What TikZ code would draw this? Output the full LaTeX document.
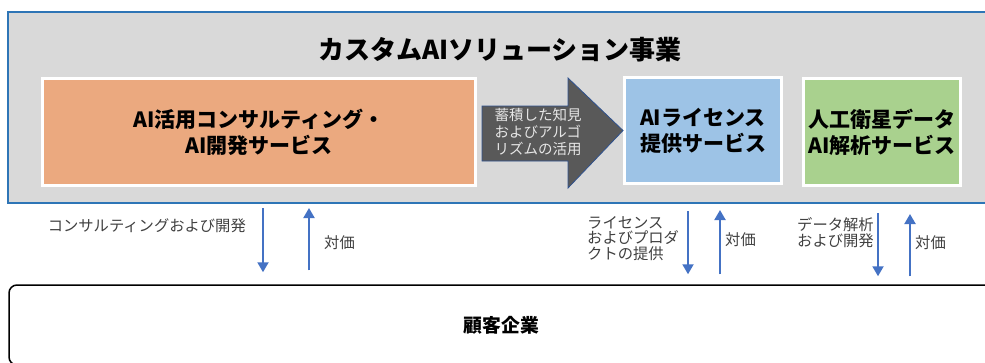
\documentclass[tikz,border=0pt]{standalone}
\usepackage{fontspec}
\setmainfont{Noto Sans CJK JP}
\usetikzlibrary{positioning,arrows.meta}

\definecolor{frameblue}{HTML}{2E75B6}
\definecolor{panelgray}{HTML}{D9D9D9}
\definecolor{consultorange}{HTML}{EBA97F}
\definecolor{licenseblue}{HTML}{9DC3E6}
\definecolor{satgreen}{HTML}{A9D18E}
\definecolor{arrowgray}{HTML}{595959}
\definecolor{arrowedge}{HTML}{2F528F}
\definecolor{arrowtext}{HTML}{E6E6E6}
\definecolor{flowblue}{HTML}{4472C4}
\definecolor{notegray}{HTML}{404040}

\begin{document}
\begin{tikzpicture}[
  x = 1pt,
  y = -1pt,
  panel/.style = {
    draw = white,
    line width = 3pt,
    inner sep = 0pt,
    align = center,
    font = \bfseries\fontsize{21}{26}\selectfont,
  },
  note/.style = {
    text = notegray,
    inner sep = 0pt,
    font = \fontsize{15.3}{15.8}\selectfont,
  },
  flow/.style = {
    ->,
    line width = 2pt,
    draw = flowblue,
  },
  >={Triangle[width=11pt,length=10pt]},
]

  \clip (0,0) rectangle (985,362);

  \node[draw=frameblue, line width=2pt, fill=panelgray, inner sep=0pt,
        minimum width=985pt, minimum height=191pt] (business) at (500.5,107.5) {};
  \node[font=\bfseries\fontsize{26}{30}\selectfont] (title) at (500,50) {カスタムAIソリューション事業};

  \node[panel, fill=consultorange, minimum width=433pt, minimum height=107pt]
    (consult) at (259,132) {AI活用コンサルティング・\\AI開発サービス};
  \node[panel, fill=licenseblue, minimum width=157pt, minimum height=106pt]
    (license) at (703,130.5) {AIライセンス\\提供サービス};
  \node[panel, fill=satgreen, minimum width=157pt, minimum height=107pt]
    (satellite) at (882,132) {人工衛星データ\\AI解析サービス};

  % know-how reuse arrow
  \draw[draw=arrowedge, fill=arrowgray, line width=0.8pt]
    (482,106) -- (568,106) -- (568,78) -- (license.west) -- (568,188)
    -- (568,161) -- (482,161) -- cycle;
  \node[text=arrowtext, align=left, inner sep=0pt, font=\fontsize{14.5}{17}\selectfont]
    (reuse) at (538,132) {蓄積した知見\\およびアルゴ\\リズムの活用};

  \node[draw=black, line width=1.5pt, rounded corners=8pt, fill=white,
        minimum width=985pt, minimum height=80pt,
        font=\bfseries\fontsize{18.8}{22}\selectfont] (client) at (501.5,325) {顧客企業};

  \coordinate (d1) at (263,0);
  \coordinate (u1) at (309,0);
  \coordinate (d2) at (688,0);
  \coordinate (u2) at (720,0);
  \coordinate (d3) at (878,0);
  \coordinate (u3) at (910,0);

  \draw[flow, shorten <=4pt, shorten >=12pt] (business.south -| d1) -- (client.north -| d1);
  \draw[flow, shorten <=14pt, shorten >=4pt] (client.north -| u1) -- (business.south -| u1);
  \draw[flow, shorten <=7pt, shorten >=10pt] (business.south -| d2) -- (client.north -| d2);
  \draw[flow, shorten <=10pt, shorten >=6pt] (client.north -| u2) -- (business.south -| u2);
  \draw[flow, shorten <=9pt, shorten >=8pt] (business.south -| d3) -- (client.north -| d3);
  \draw[flow, shorten <=8pt, shorten >=10pt] (client.north -| u3) -- (business.south -| u3);

  \node[note, anchor=east] (consultflow) at (246,226) {コンサルティングおよび開発};
  \node[note, anchor=west, align=left] (licenseflow) at (587,238.5) {ライセンス\\およびプロダ\\クトの提供};
  \node[note, anchor=west, align=left] (analysisflow) at (797,232.5) {データ解析\\および開発};
  \node[note, anchor=west] (fee1) at (324,243) {対価};
  \node[note, anchor=west] (fee2) at (725,240) {対価};
  \node[note, anchor=west] (fee3) at (915,243) {対価};

\end{tikzpicture}
\end{document}
